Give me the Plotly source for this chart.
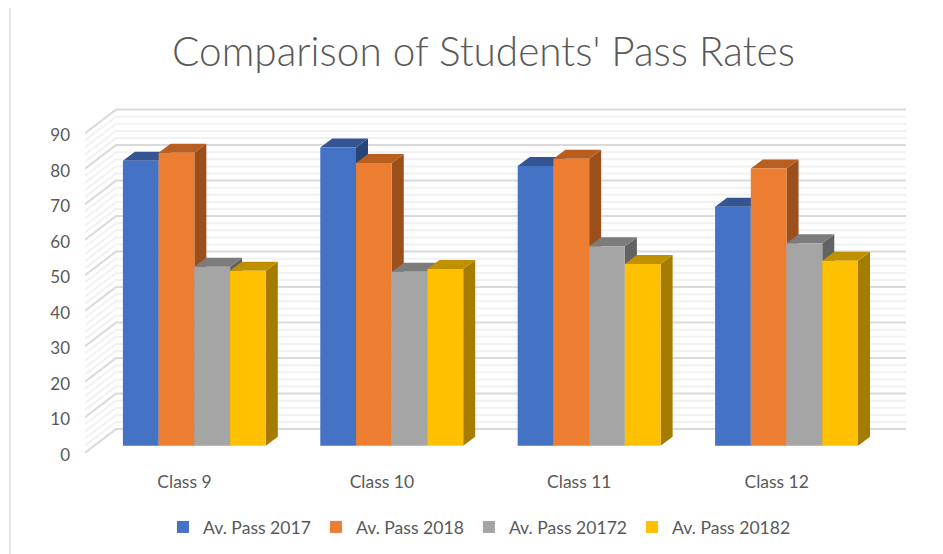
import plotly.graph_objects as go

categories = ["Class 9", "Class 10", "Class 11", "Class 12"]
series_names = ["Av. Pass 2017", "Av. Pass 2018", "Av. Pass 20172", "Av. Pass 20182"]
pass_2017 = [80.3, 84.0, 78.8, 67.3]
pass_2018 = [82.5, 79.6, 80.8, 78.1]
pass_20172 = [50.4, 49.0, 56.2, 57.0]
pass_20182 = [49.3, 49.8, 51.2, 52.1]
y_ticks = list(range(0, 100, 10))
title_text = "Comparison of Students' Pass Rates"

all_values = [pass_2017, pass_2018, pass_20172, pass_20182]
front_colors = ["#4472C4", "#ED7D31", "#A5A5A5", "#FFC000"]
top_colors = ["#345592", "#B85F20", "#7C7C7C", "#BF9000"]
side_colors = ["#264478", "#9B501B", "#636363", "#A67C00"]

W, H = 943, 554
L, R, T, B = 85, 915, 100, 460
PX_X = 197.4      # px per category
PX_Y = 3.55       # px per value unit
X0_PX = 194.35    # px of first category centre
Y0_AXIS = 454.7   # px of the tick label 0
Y0_FRONT = 452.7  # px of wall line 0 at its front end
Y0_BAR = 445.7    # px of bar base
BAR_W = 0.181
BAR_DX, BAR_DY = 12 / PX_X, 9 / PX_Y
WALL_LEFT = (85 - X0_PX) / PX_X
WALL_BACK = (116 - X0_PX) / PX_X
WALL_RIGHT = (906 - X0_PX) / PX_X
WALL_DY = 23.6 / PX_Y
WALL_SHIFT = (Y0_AXIS - Y0_FRONT) / PX_Y
BAR_SHIFT = (Y0_AXIS - Y0_BAR) / PX_Y

xpos = list(range(len(categories)))
fig = go.Figure()


def wall_lines(levels):
    xs, ys = [], []
    for v in levels:
        xs += [WALL_LEFT, WALL_BACK, WALL_RIGHT, None]
        ys += [v + WALL_SHIFT, v + WALL_SHIFT + WALL_DY, v + WALL_SHIFT + WALL_DY, None]
    return xs, ys


mx, my = wall_lines([v for v in range(0, 92, 2) if v % 10])
fig.add_trace(go.Scatter(x=mx, y=my, mode="lines", line=dict(color="#F1F1F1", width=2),
                         showlegend=False, hoverinfo="skip"))
mx, my = wall_lines(y_ticks)
fig.add_trace(go.Scatter(x=mx, y=my, mode="lines", line=dict(color="#DADADA", width=2),
                         showlegend=False, hoverinfo="skip"))

n = len(all_values)
for s, vals in enumerate(all_values):
    tx, ty, sx, sy = [], [], [], []
    for k, v in zip(xpos, vals):
        a = k + (s - n / 2) * BAR_W
        b = a + BAR_W
        top = v + BAR_SHIFT
        base = BAR_SHIFT
        tx += [a, b, b + BAR_DX, a + BAR_DX, a, None]
        ty += [top, top, top + BAR_DY, top + BAR_DY, top, None]
        sx += [b, b + BAR_DX, b + BAR_DX, b, b, None]
        sy += [base, base + BAR_DY, top + BAR_DY, top, base, None]
    for px, py, c in ((sx, sy, side_colors[s]), (tx, ty, top_colors[s])):
        fig.add_trace(go.Scatter(x=px, y=py, mode="lines", fill="toself", fillcolor=c,
                                 line=dict(width=0, color=c), showlegend=False, hoverinfo="skip"))

for s, vals in enumerate(all_values):
    fig.add_trace(go.Bar(x=xpos, y=vals, name=series_names[s], yaxis="y2",
                         marker=dict(color=front_colors[s], line=dict(width=0))))

font = "Lato, 'Open Sans', sans-serif"
fig.update_layout(
    width=W, height=H, autosize=False,
    margin=dict(l=L, r=W - R, t=T, b=H - B),
    paper_bgcolor="white", plot_bgcolor="white",
    barmode="group", bargap=1 - n * BAR_W, bargroupgap=0,
    font=dict(family=font, color="#595959"),
    title=dict(text=title_text, x=483.5 / W, xanchor="center", y=1 - 52 / H, yanchor="middle",
               font=dict(family=font, size=40.5, color="#595959", weight=300)),
    xaxis=dict(range=[(L - X0_PX) / PX_X, (R - X0_PX) / PX_X], showgrid=False, zeroline=False,
               showline=False, tickmode="array", tickvals=[k - 0.05 for k in xpos], ticktext=categories,
               ticks="", ticklabelstandoff=9, tickfont=dict(size=17.5, color="#595959")),
    yaxis=dict(range=[(Y0_AXIS - B) / PX_Y, (Y0_AXIS - T) / PX_Y], showgrid=False, zeroline=False,
               showline=False, tickmode="array", tickvals=y_ticks, ticks="", ticklabelstandoff=14,
               tickfont=dict(size=17, color="#595959")),
    yaxis2=dict(range=[(Y0_BAR - B) / PX_Y, (Y0_BAR - T) / PX_Y], overlaying="y", visible=False),
    legend=dict(orientation="h", xref="container", yref="container", x=163 / W, xanchor="left",
                y=1 - 527 / H, yanchor="middle",
                font=dict(size=17.6, color="#595959"), bgcolor="rgba(0,0,0,0)", traceorder="normal"),
    shapes=[dict(type="line", xref="paper", yref="paper",
                 x0=(10 - L) / (R - L), x1=(10 - L) / (R - L),
                 y0=(B - H) / (B - T), y1=(B - 8) / (B - T),
                 line=dict(color="#E3E3E3", width=2))],
)
fig.write_html("out.html", config={"displayModeBar": False},
               post_script="document.body.style.margin='0';")
